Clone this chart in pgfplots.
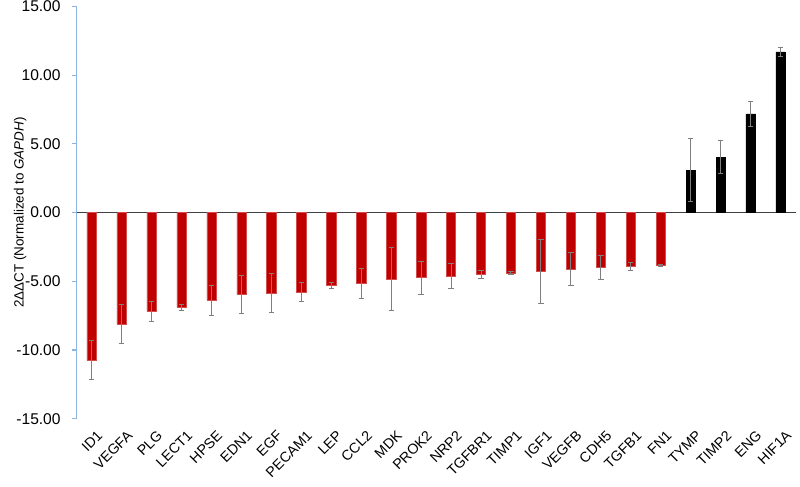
\documentclass[border=0pt]{standalone}
\usepackage{pgfplots}
\pgfplotsset{compat=1.18}
\usepackage{fontspec}
\setmainfont{Liberation Sans}
\definecolor{barred}{HTML}{C00000}
\definecolor{axblue}{HTML}{8EB4E3}
\definecolor{errgray}{HTML}{7F7F7F}

% x, value, error
\pgfplotstableread{
x y err
0 -10.73 1.40
1 -8.12 1.40
2 -7.20 0.70
3 -6.90 0.20
4 -6.37 1.10
5 -5.95 1.40
6 -5.85 1.40
7 -5.76 0.70
8 -5.29 0.20
9 -5.15 1.10
10 -4.83 2.30
11 -4.73 1.20
12 -4.61 0.88
13 -4.49 0.30
14 -4.39 0.12
15 -4.29 2.30
16 -4.10 1.20
17 -4.00 0.90
18 -3.90 0.30
19 -3.86 0.06
}\downgenes
\pgfplotstableread{
x y err
20 3.09 2.30
21 4.02 1.20
22 7.17 0.90
23 11.68 0.30
}\upgenes

\begin{document}
\begin{tikzpicture}
\begin{axis}[
    scale only axis,
    width=434pt, height=249pt,
    xmin=-0.5, xmax=23.5,
    ymin=-15, ymax=15,
    ytick={-15,-10,...,15},
    axis lines=left,
    axis line style={-},
    x axis line style={draw=none},
    y axis line style={axblue, line width=0.7pt},
    xtick={0,...,23},
    xticklabels={ID1,VEGFA,PLG,LECT1,HPSE,EDN1,EGF,PECAM1,LEP,CCL2,MDK,PROK2,NRP2,TGFBR1,TIMP1,IGF1,VEGFB,CDH5,TGFB1,FN1,TYMP,TIMP2,ENG,HIF1A},
    xtick style={draw=none},
    ytick style={axblue, line width=0.7pt},
    tick align=outside,
    major tick length=3pt,
    xticklabel style={rotate=45, anchor=north east, font=\fontsize{8.6}{10}\selectfont, xshift=3pt, yshift=-1pt},
    yticklabel style={font=\fontsize{9.4}{11}\selectfont, inner sep=0.5pt, xshift=-6pt},
    /pgf/number format/assume math mode=true,
    yticklabel={\pgfmathprintnumber[fixed, fixed zerofill, precision=2]{\tick}},
    ylabel={2ΔΔCT (Normalized to \textit{GAPDH})},
    ylabel style={font=\fontsize{8.1}{10}\selectfont, yshift=-10pt},
    ybar, bar width=5.6pt,
    clip=false,
]
\draw[black!75, line width=0.7pt] (axis cs:-0.5,0) -- (axis cs:23.5,0);
\addplot[bar shift=0pt, fill=barred, draw=barred!70!white, line width=0.3pt,
    error bars/.cd, y dir=both, y explicit,
    error bar style={errgray, line width=0.6pt},
    error mark options={errgray, rotate=90, mark size=1.6pt, line width=0.6pt}]
    table[x=x, y=y, y error=err] {\downgenes};
\addplot[bar shift=0pt, fill=black, draw=black, line width=0.3pt,
    error bars/.cd, y dir=both, y explicit,
    error bar style={errgray, line width=0.6pt},
    error mark options={errgray, rotate=90, mark size=1.6pt, line width=0.6pt}]
    table[x=x, y=y, y error=err] {\upgenes};
\end{axis}
% blank margin left of the y label, as in the reference
\path ([xshift=-5pt]current bounding box.west);
\end{tikzpicture}
\end{document}
